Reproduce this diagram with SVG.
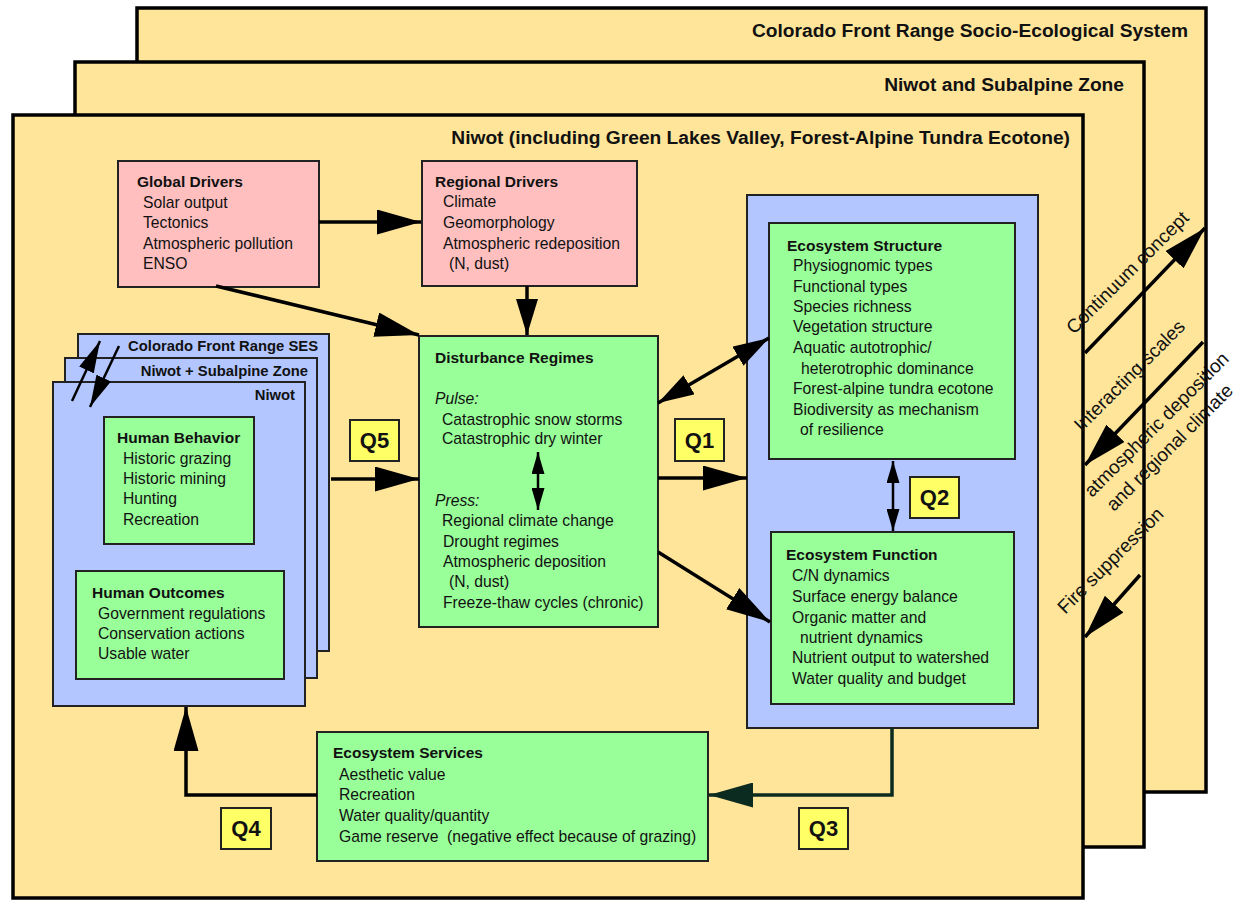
<svg xmlns="http://www.w3.org/2000/svg" width="1237" height="900" viewBox="0 0 1237 900">
<defs>
<style>
text{font-family:"Liberation Sans",Arial,sans-serif;fill:#111;}
.frame{fill:#FFE599;stroke:#000;stroke-width:3.5;}
.ft{font-size:19.2px;font-weight:bold;text-anchor:end;}
.pink{fill:#FFBFBF;stroke:#222;stroke-width:2;}
.green{fill:#99FF99;stroke:#222;stroke-width:2;}
.blue{fill:#B3C6FF;stroke:#222;stroke-width:2;}
.q{fill:#FFFF66;stroke:#222;stroke-width:2;}
.qt{font-size:22px;font-weight:bold;text-anchor:middle;}
.h{font-size:15.5px;font-weight:bold;}
.b{font-size:15.7px;}
.i{font-size:15.7px;font-style:italic;}
.st{font-size:14.8px;font-weight:bold;text-anchor:end;}
.rt{font-size:19px;text-anchor:middle;}
.c{fill:none;stroke:#000;stroke-width:3.5;}
.cs{fill:none;stroke:#000;stroke-width:2.5;}
</style>
<marker id="big" viewBox="0 0 44 25" refX="44" refY="12.5" markerWidth="44" markerHeight="25" markerUnits="userSpaceOnUse" orient="auto-start-reverse"><path d="M0,0 L44,12.5 L0,25 z" fill="#000"/></marker>
<marker id="bigd" viewBox="0 0 44 25" refX="44" refY="12.5" markerWidth="44" markerHeight="25" markerUnits="userSpaceOnUse" orient="auto"><path d="M0,0 L44,12.5 L0,25 z" fill="#0B2A20"/></marker>
<marker id="med" viewBox="0 0 36 22" refX="36" refY="11" markerWidth="36" markerHeight="22" markerUnits="userSpaceOnUse" orient="auto-start-reverse"><path d="M0,0 L36,11 L0,22 z" fill="#000"/></marker>
<marker id="sm" viewBox="0 0 22 13" refX="22" refY="6.5" markerWidth="22" markerHeight="13" markerUnits="userSpaceOnUse" orient="auto-start-reverse"><path d="M0,0 L22,6.5 L0,13 z" fill="#000"/></marker>
<marker id="lst" viewBox="0 0 32 16" refX="32" refY="8" markerWidth="32" markerHeight="16" markerUnits="userSpaceOnUse" orient="auto"><path d="M0,0 L32,8 L0,16 z" fill="#000"/></marker>
</defs>

<g id="frame-colorado">
<rect class="frame" x="137" y="8" width="1069" height="784"/>
<text class="ft" x="1188" y="37">Colorado Front Range Socio-Ecological System</text>
</g>
<g id="frame-subalpine">
<rect class="frame" x="75" y="62" width="1069" height="785"/>
<text class="ft" x="1124" y="91">Niwot and Subalpine Zone</text>
</g>
<g id="frame-niwot">
<rect class="frame" x="13" y="115" width="1070" height="783"/>
<text class="ft" x="1070" y="144">Niwot (including Green Lakes Valley, Forest-Alpine Tundra Ecotone)</text>
</g>

<g id="global-drivers">
<rect class="pink" x="118" y="161" width="201" height="126"/>
<text class="h" x="137" y="187">Global Drivers</text>
<text class="b" x="143" y="208">Solar output</text>
<text class="b" x="143" y="228">Tectonics</text>
<text class="b" x="143" y="249">Atmospheric pollution</text>
<text class="b" x="143" y="269">ENSO</text>
</g>

<g id="regional-drivers">
<rect class="pink" x="422" y="161" width="215" height="125"/>
<text class="h" x="435" y="187">Regional Drivers</text>
<text class="b" x="443" y="207">Climate</text>
<text class="b" x="443" y="228">Geomorphology</text>
<text class="b" x="443" y="249">Atmospheric redeposition</text>
<text class="b" x="449" y="269">(N, dust)</text>
</g>

<g id="disturbance-regimes">
<rect class="green" x="419" y="336" width="239" height="291"/>
<text class="h" x="435" y="363">Disturbance Regimes</text>
<text class="i" x="435" y="404">Pulse:</text>
<text class="b" x="442" y="425">Catastrophic snow storms</text>
<text class="b" x="442" y="444">Catastrophic dry winter</text>
<text class="i" x="435" y="506">Press:</text>
<text class="b" x="442" y="526">Regional climate change</text>
<text class="b" x="443" y="547">Drought regimes</text>
<text class="b" x="443" y="567">Atmospheric deposition</text>
<text class="b" x="449" y="587">(N, dust)</text>
<text class="b" x="443" y="608">Freeze-thaw cycles (chronic)</text>
</g>

<g id="ecosystem-container">
<rect class="blue" x="747" y="195" width="291" height="533"/>
</g>

<g id="ecosystem-structure">
<rect class="green" x="769" y="223" width="246" height="236"/>
<text class="h" x="787" y="251">Ecosystem Structure</text>
<text class="b" x="793" y="271">Physiognomic types</text>
<text class="b" x="793" y="292">Functional types</text>
<text class="b" x="793" y="312">Species richness</text>
<text class="b" x="793" y="332">Vegetation structure</text>
<text class="b" x="793" y="353">Aquatic autotrophic/</text>
<text class="b" x="801" y="374">heterotrophic dominance</text>
<text class="b" x="793" y="394">Forest-alpine tundra ecotone</text>
<text class="b" x="793" y="415">Biodiversity as mechanism</text>
<text class="b" x="800" y="435">of resilience</text>
</g>

<g id="ecosystem-function">
<rect class="green" x="771" y="532" width="243" height="172"/>
<text class="h" x="786" y="560">Ecosystem Function</text>
<text class="b" x="792" y="581">C/N dynamics</text>
<text class="b" x="792" y="602">Surface energy balance</text>
<text class="b" x="792" y="623">Organic matter and</text>
<text class="b" x="800" y="643">nutrient dynamics</text>
<text class="b" x="792" y="663">Nutrient output to watershed</text>
<text class="b" x="792" y="684">Water quality and budget</text>
</g>

<g id="ecosystem-services">
<rect class="green" x="317" y="732" width="391" height="129"/>
<text class="h" x="333" y="758">Ecosystem Services</text>
<text class="b" x="339" y="780">Aesthetic value</text>
<text class="b" x="339" y="800">Recreation</text>
<text class="b" x="339" y="821">Water quality/quantity</text>
<text class="b" x="339" y="842">Game reserve&#160; (negative effect because of grazing)</text>
</g>

<g id="human-stack">
<rect class="blue" x="78" y="334" width="251" height="317"/>
<text class="st" x="318" y="351">Colorado Front Range SES</text>
<rect class="blue" x="65" y="358" width="252" height="320"/>
<text class="st" x="308" y="376">Niwot + Subalpine Zone</text>
<rect class="blue" x="53" y="382" width="252" height="324"/>
<text class="st" x="295" y="400">Niwot</text>
</g>

<g id="human-behavior">
<rect class="green" x="104" y="417" width="150" height="127"/>
<text class="h" x="117" y="443">Human Behavior</text>
<text class="b" x="123" y="464">Historic grazing</text>
<text class="b" x="123" y="484">Historic mining</text>
<text class="b" x="123" y="504">Hunting</text>
<text class="b" x="123" y="525">Recreation</text>
</g>

<g id="human-outcomes">
<rect class="green" x="76" y="571" width="208" height="108"/>
<text class="h" x="92" y="598">Human Outcomes</text>
<text class="b" x="98" y="619">Government regulations</text>
<text class="b" x="98" y="639">Conservation actions</text>
<text class="b" x="98" y="659">Usable water</text>
</g>

<g id="q5"><rect class="q" x="350" y="420" width="49" height="41"/><text class="qt" x="374.5" y="448">Q5</text></g>
<g id="q1"><rect class="q" x="675" y="419" width="49" height="42"/><text class="qt" x="699.5" y="448">Q1</text></g>
<g id="q2"><rect class="q" x="910" y="477" width="49" height="41"/><text class="qt" x="934.5" y="505">Q2</text></g>
<g id="q4"><rect class="q" x="221" y="808" width="50" height="41"/><text class="qt" x="246" y="836">Q4</text></g>
<g id="q3"><rect class="q" x="799" y="808" width="49" height="41"/><text class="qt" x="823.5" y="836">Q3</text></g>

<g id="connectors">
<path class="c" d="M319,222 L421,222" marker-end="url(#big)"/>
<path class="c" d="M216,286 L419,335" marker-end="url(#big)"/>
<path class="c" d="M527,286 L527,335" marker-end="url(#med)"/>
<path class="c" d="M331,479 L419,479" marker-end="url(#big)"/>
<path class="c" d="M658,478 L747,478" marker-end="url(#big)"/>
<path class="c" d="M658,552 L770,622" marker-end="url(#big)"/>
<path class="c" d="M658,403 L769,338" marker-start="url(#med)" marker-end="url(#med)"/>
<path class="cs" d="M893,461 L893,531" marker-start="url(#sm)" marker-end="url(#sm)"/>
<path class="cs" d="M538,452 L538,510" marker-start="url(#sm)" marker-end="url(#sm)"/>
<path d="M892,728 L892,795 L709,795" fill="none" stroke="#0B2A20" stroke-width="3.5" marker-end="url(#bigd)"/>
<path class="c" d="M317,795 L186,795 L186,707" marker-end="url(#big)"/>
<path class="cs" d="M72,401 L100,341" marker-end="url(#lst)"/>
<path class="cs" d="M119,346 L90,407" marker-end="url(#lst)"/>
<path class="c" d="M1085,353 L1205,228" marker-end="url(#big)"/>
<path class="c" d="M1203,342 L1085,465" marker-end="url(#big)"/>
<path class="c" d="M1140,575 L1085,637" marker-end="url(#big)"/>
</g>

<g id="scale-labels">
<text class="rt" transform="translate(1132,277) rotate(-45)">Continuum concept</text>
<text class="rt" transform="translate(1134,380) rotate(-45)">Interacting scales</text>
<text class="rt" transform="translate(1161,429) rotate(-45)">atmospheric deposition</text>
<text class="rt" transform="translate(1174,452) rotate(-45)">and regional climate</text>
<text class="rt" transform="translate(1115,565) rotate(-45)">Fire suppression</text>
</g>
</svg>
